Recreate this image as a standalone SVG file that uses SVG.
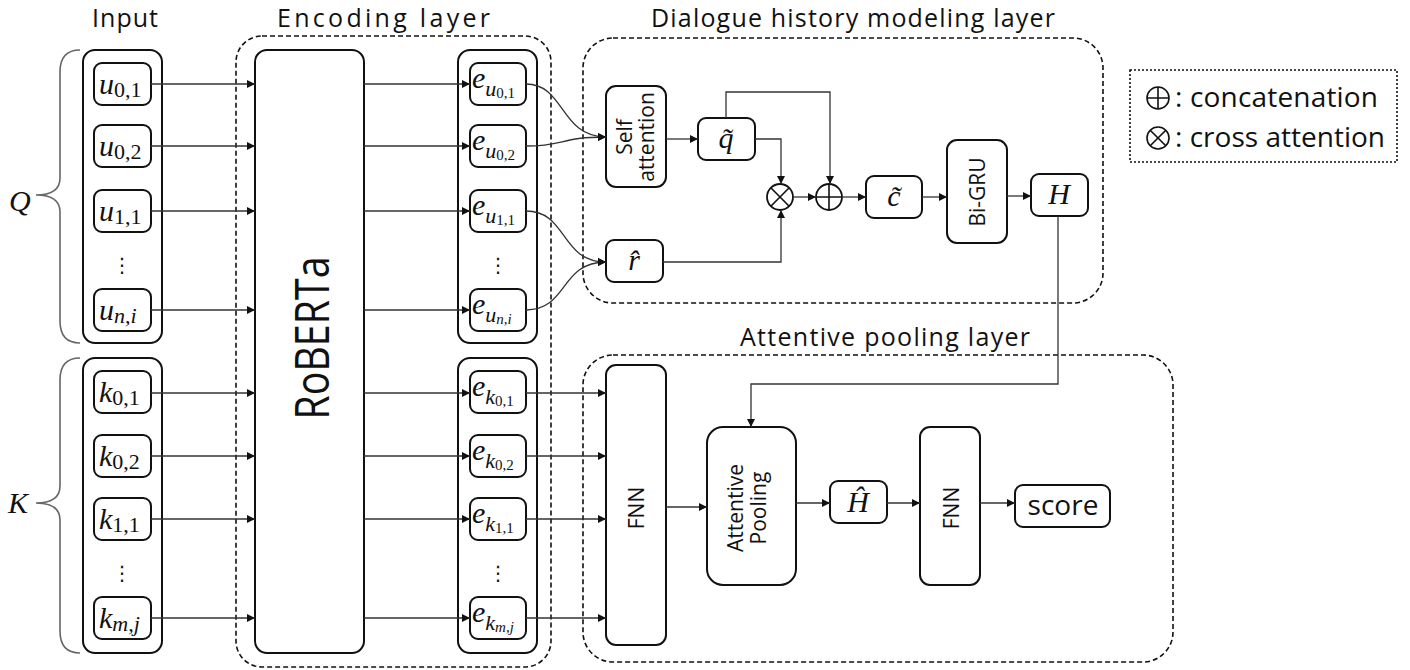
<svg xmlns="http://www.w3.org/2000/svg" width="1410" height="670" viewBox="0 0 1410 670">
<defs>
<marker id="ah" viewBox="0 0 10 10" refX="10" refY="5" markerWidth="9" markerHeight="8" markerUnits="userSpaceOnUse" orient="auto">
<path d="M0,0 L10,5 L0,10 z" fill="#111"/>
</marker>
<style>
.box{fill:#fff;stroke:#111;stroke-width:2}
.grp{fill:none;stroke:#111;stroke-width:2}
.dash{fill:none;stroke:#111;stroke-width:1.6;stroke-dasharray:5,3}
.dot{fill:none;stroke:#111;stroke-width:1.6;stroke-dasharray:2,2}
.con{fill:none;stroke:#333;stroke-width:1.3}
.arr{fill:none;stroke:#333;stroke-width:1.3;marker-end:url(#ah)}
.brace{fill:none;stroke:#666;stroke-width:1.6}
.title{font-family:"Open Sans","Noto Sans",sans-serif;font-size:25px;fill:#111}
.leg{font-family:"Open Sans","Noto Sans",sans-serif;font-size:28px;fill:#111}
.lbl{font-family:"Open Sans","Noto Sans",sans-serif;font-size:21px;fill:#111}
.mi{font-family:"Liberation Serif","DejaVu Serif",serif;font-style:italic;font-size:30px;fill:#111}
.sub{font-style:normal;font-size:22px}
.subi{font-style:italic;font-size:22px}
.ssub{font-style:normal;font-size:15px}
.ssubi{font-style:italic;font-size:15px}
.dots{font-family:"DejaVu Sans",sans-serif;font-size:20px;fill:#111}
</style>
</defs>

<!-- titles -->
<text class="title" x="92" y="27" textLength="66" lengthAdjust="spacing">Input</text>
<text class="title" x="277" y="27" textLength="213" lengthAdjust="spacing">Encoding layer</text>
<text class="title" x="651" y="27" textLength="404" lengthAdjust="spacing">Dialogue history modeling layer</text>
<text class="title" x="740" y="346" textLength="290" lengthAdjust="spacing">Attentive pooling layer</text>

<!-- layer frames -->
<g id="encoding-layer"><rect class="dash" x="236" y="36" width="315" height="631" rx="26"/></g>
<g id="dialogue-layer"><rect class="dash" x="583" y="38" width="520" height="265" rx="30"/></g>
<g id="pooling-layer"><rect class="dash" x="583" y="355" width="590" height="307" rx="30"/></g>

<!-- legend -->
<g id="legend">
<rect class="dot" x="1130" y="70" width="267" height="92"/>
<circle cx="1158" cy="98" r="11" fill="none" stroke="#111" stroke-width="1.6"/>
<path d="M1147 98 H1169 M1158 87 V109" stroke="#111" stroke-width="1.6"/>
<circle cx="1158" cy="138" r="11" fill="none" stroke="#111" stroke-width="1.6"/>
<path d="M1150.2 130.2 L1165.8 145.8 M1165.8 130.2 L1150.2 145.8" stroke="#111" stroke-width="1.6"/>
<text class="leg" x="1175" y="107" textLength="203" lengthAdjust="spacing">: concatenation</text>
<text class="leg" x="1175" y="147" textLength="210" lengthAdjust="spacing">: cross attention</text>
</g>

<!-- braces -->
<g id="Q">
<path class="brace" d="M80 50 Q60 50 60 72 L60 178 Q60 195 36 195 Q60 195 60 212 L60 321 Q60 343 80 343"/>
<text class="mi" x="9" y="211" font-size="28">Q</text>
</g>
<g id="K">
<path class="brace" d="M80 358 Q60 358 60 380 L60 486 Q60 503 36 503 Q60 503 60 520 L60 631 Q60 653 80 653"/>
<text class="mi" x="8" y="513" font-size="28">K</text>
</g>

<!-- input column -->
<g id="input-Q">
<rect class="grp" x="83" y="50" width="79" height="293" rx="12"/>
<rect class="box" x="94" y="63" width="57" height="42" rx="8"/>
<text class="mi" x="99" y="94">u<tspan class="sub" dy="3">0,1</tspan></text>
<rect class="box" x="94" y="125" width="57" height="42" rx="8"/>
<text class="mi" x="99" y="156">u<tspan class="sub" dy="3">0,2</tspan></text>
<rect class="box" x="94" y="190" width="57" height="42" rx="8"/>
<text class="mi" x="99" y="221">u<tspan class="sub" dy="3">1,1</tspan></text>
<text class="dots" x="122" y="272" text-anchor="middle">⋮</text>
<rect class="box" x="94" y="289" width="57" height="42" rx="8"/>
<text class="mi" x="99" y="320">u<tspan class="subi" dy="3">n,i</tspan></text>
</g>
<g id="input-K">
<rect class="grp" x="83" y="358" width="79" height="295" rx="12"/>
<rect class="box" x="94" y="371" width="57" height="42" rx="8"/>
<text class="mi" x="99" y="402">k<tspan class="sub" dy="3">0,1</tspan></text>
<rect class="box" x="94" y="435" width="57" height="42" rx="8"/>
<text class="mi" x="99" y="466">k<tspan class="sub" dy="3">0,2</tspan></text>
<rect class="box" x="94" y="498" width="57" height="42" rx="8"/>
<text class="mi" x="99" y="529">k<tspan class="sub" dy="3">1,1</tspan></text>
<text class="dots" x="122" y="580" text-anchor="middle">⋮</text>
<rect class="box" x="94" y="597" width="57" height="42" rx="8"/>
<text class="mi" x="99" y="628">k<tspan class="subi" dy="3">m,j</tspan></text>
</g>

<!-- RoBERTa -->
<g id="roberta">
<rect class="box" x="255" y="50" width="109" height="603" rx="12"/>
<text transform="translate(311,338) rotate(-90)" x="0" y="18" text-anchor="middle" font-family="Open Sans, Noto Sans, sans-serif" font-size="48" textLength="163" lengthAdjust="spacingAndGlyphs" fill="#111">RoBERTa</text>
</g>

<!-- encoded column -->
<g id="enc-Q">
<rect class="grp" x="458" y="50" width="79" height="293" rx="12"/>
<rect class="box" x="470" y="63" width="56" height="42" rx="8"/>
<text class="mi" x="472" y="88">e<tspan class="subi" dy="8">u</tspan><tspan class="ssub" dy="2">0,1</tspan></text>
<rect class="box" x="470" y="125" width="56" height="42" rx="8"/>
<text class="mi" x="472" y="150">e<tspan class="subi" dy="8">u</tspan><tspan class="ssub" dy="2">0,2</tspan></text>
<rect class="box" x="470" y="190" width="56" height="42" rx="8"/>
<text class="mi" x="472" y="215">e<tspan class="subi" dy="8">u</tspan><tspan class="ssub" dy="2">1,1</tspan></text>
<text class="dots" x="498" y="272" text-anchor="middle">⋮</text>
<rect class="box" x="470" y="289" width="56" height="42" rx="8"/>
<text class="mi" x="472" y="314">e<tspan class="subi" dy="8">u</tspan><tspan class="ssubi" dy="2">n,i</tspan></text>
</g>
<g id="enc-K">
<rect class="grp" x="458" y="358" width="79" height="295" rx="12"/>
<rect class="box" x="470" y="371" width="56" height="42" rx="8"/>
<text class="mi" x="472" y="396">e<tspan class="subi" dy="8">k</tspan><tspan class="ssub" dy="2">0,1</tspan></text>
<rect class="box" x="470" y="435" width="56" height="42" rx="8"/>
<text class="mi" x="472" y="460">e<tspan class="subi" dy="8">k</tspan><tspan class="ssub" dy="2">0,2</tspan></text>
<rect class="box" x="470" y="498" width="56" height="42" rx="8"/>
<text class="mi" x="472" y="523">e<tspan class="subi" dy="8">k</tspan><tspan class="ssub" dy="2">1,1</tspan></text>
<text class="dots" x="498" y="580" text-anchor="middle">⋮</text>
<rect class="box" x="470" y="597" width="56" height="42" rx="8"/>
<text class="mi" x="472" y="622">e<tspan class="subi" dy="8">k</tspan><tspan class="ssubi" dy="2">m,j</tspan></text>
</g>

<!-- dialogue history nodes -->
<g id="self-attention">
<rect class="box" x="606" y="86" width="60" height="101" rx="10"/>
<text class="lbl" transform="translate(636,137) rotate(-90)" text-anchor="middle"><tspan x="0" y="-4">Self</tspan><tspan x="0" y="18">attention</tspan></text>
</g>
<g id="q-tilde">
<rect class="box" x="698" y="118" width="57" height="42" rx="8"/>
<text class="mi" x="726" y="148" text-anchor="middle">q̃</text>
</g>
<g id="r-hat">
<rect class="box" x="606" y="240" width="57" height="42" rx="8"/>
<text class="mi" x="634" y="270" text-anchor="middle">r̂</text>
</g>
<g id="cross-attention">
<circle cx="780" cy="197" r="13" fill="#fff" stroke="#111" stroke-width="1.8"/>
<path d="M770.8 187.8 L789.2 206.2 M789.2 187.8 L770.8 206.2" stroke="#111" stroke-width="1.6"/>
</g>
<g id="concat">
<circle cx="829" cy="197" r="13" fill="#fff" stroke="#111" stroke-width="1.8"/>
<path d="M816 197 H842 M829 184 V210" stroke="#111" stroke-width="1.6"/>
</g>
<g id="c-tilde">
<rect class="box" x="866" y="176" width="56" height="42" rx="8"/>
<text class="mi" x="894" y="206" text-anchor="middle">c̃</text>
</g>
<g id="bi-gru">
<rect class="box" x="947" y="140" width="60" height="103" rx="10"/>
<text class="lbl" transform="translate(977,192) rotate(-90)" x="0" y="8" text-anchor="middle" font-size="22">Bi-GRU</text>
</g>
<g id="H">
<rect class="box" x="1031" y="174" width="57" height="42" rx="8"/>
<text class="mi" x="1059" y="204" text-anchor="middle" font-size="27">H</text>
</g>

<!-- attentive pooling nodes -->
<g id="fnn1">
<rect class="box" x="606" y="365" width="60" height="280" rx="10"/>
<text class="lbl" transform="translate(636,508) rotate(-90)" x="0" y="8" text-anchor="middle" font-size="22">FNN</text>
</g>
<g id="attentive-pooling">
<rect class="box" x="707" y="427" width="89" height="158" rx="16"/>
<text class="lbl" transform="translate(751,508) rotate(-90)" text-anchor="middle"><tspan x="0" y="-8">Attentive</tspan><tspan x="0" y="15">Pooling</tspan></text>
</g>
<g id="H-hat">
<rect class="box" x="830" y="481" width="57" height="42" rx="8"/>
<text class="mi" x="858" y="512" text-anchor="middle" font-size="27">Ĥ</text>
</g>
<g id="fnn2">
<rect class="box" x="920" y="427" width="60" height="158" rx="10"/>
<text class="lbl" transform="translate(950,508) rotate(-90)" x="0" y="9" text-anchor="middle" font-size="22">FNN</text>
</g>
<g id="score">
<rect class="box" x="1015" y="485" width="95" height="42" rx="8"/>
<text class="leg" x="1063" y="515" text-anchor="middle" font-size="26">score</text>
</g>

<!-- connectors -->
<g id="connectors">
<path class="arr" d="M151 84 H255"/>
<path class="arr" d="M151 146 H255"/>
<path class="arr" d="M151 211 H255"/>
<path class="arr" d="M151 310 H255"/>
<path class="arr" d="M151 393 H255"/>
<path class="arr" d="M151 456 H255"/>
<path class="arr" d="M151 519 H255"/>
<path class="arr" d="M151 618 H255"/>

<path class="arr" d="M364 84 H470"/>
<path class="arr" d="M364 146 H470"/>
<path class="arr" d="M364 211 H470"/>
<path class="arr" d="M364 310 H470"/>
<path class="arr" d="M364 393 H470"/>
<path class="arr" d="M364 456 H470"/>
<path class="arr" d="M364 519 H470"/>
<path class="arr" d="M364 618 H470"/>

<path class="arr" d="M526 84 C565 84 560 137 606 137"/>
<path class="arr" d="M526 146 C565 146 560 137 606 137"/>
<path class="arr" d="M526 211 C568 211 560 262 606 262"/>
<path class="arr" d="M526 310 C568 310 560 262 606 262"/>

<path class="arr" d="M526 393 H606"/>
<path class="arr" d="M526 456 H606"/>
<path class="arr" d="M526 519 H606"/>
<path class="arr" d="M526 618 H606"/>

<path class="arr" d="M666 139 H698"/>
<path class="arr" d="M755 139 H781 V184"/>
<path class="arr" d="M663 262 H781 V210"/>
<path class="arr" d="M726 118 V92 H830 V184"/>
<path class="arr" d="M793 197 H816"/>
<path class="arr" d="M842 197 H866"/>
<path class="arr" d="M922 197 H947"/>
<path class="arr" d="M1007 196 H1031"/>
<path class="arr" d="M1058 216 V384 H751 V427"/>

<path class="arr" d="M666 507 H707"/>
<path class="arr" d="M796 503 H830"/>
<path class="arr" d="M887 503 H920"/>
<path class="arr" d="M980 503 H1015"/>
</g>
</svg>
